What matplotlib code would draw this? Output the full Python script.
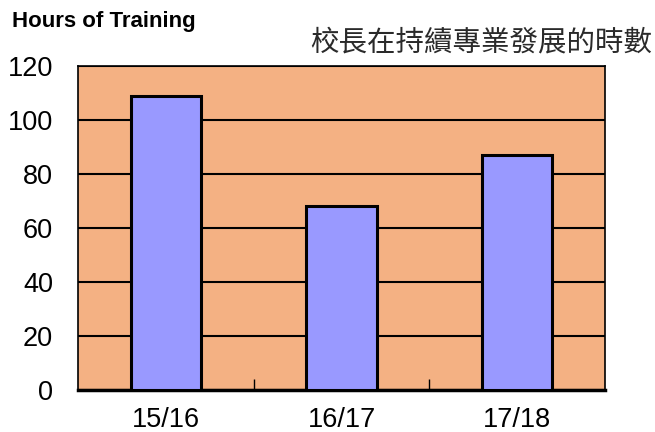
import numpy as np
import matplotlib.pyplot as plt

plt.rcParams['font.family'] = ['Liberation Sans', 'Noto Sans CJK TC', 'DejaVu Sans']

years = ['15/16', '16/17', '17/18']
hours = [109, 68, 87]
yticks = [0, 20, 40, 60, 80, 100, 120]

fig = plt.figure(figsize=(6.55, 4.32), dpi=100)
ax = fig.add_axes([78 / 655, 1 - 390 / 432, 527 / 655, 324 / 432])
ax.set_facecolor('#F4B183')

x = np.arange(len(years))
ax.bar(x, hours, width=0.4, color='#9999FF', edgecolor='black', linewidth=2.2, zorder=3)

ax.set_xlim(-0.5, 2.5)
ax.set_ylim(0, 120)
ax.set_yticks(yticks)
ax.set_yticklabels([str(v) for v in yticks], fontsize=19.5)
ax.yaxis.grid(True, color='black', linewidth=1.5, zorder=1)
ax.set_axisbelow(True)
ax.tick_params(axis='y', length=0, pad=18)

ax.set_xticks(x)
ax.set_xticklabels(years, fontsize=19.5)
ax.tick_params(axis='x', length=0, pad=12)
ax.set_xticks([0.5, 1.5], minor=True)
ax.tick_params(axis='x', which='minor', direction='in', length=8, width=1, color='black')

for side in ['left', 'top', 'right']:
    ax.spines[side].set_linewidth(1.2)
ax.spines['bottom'].set_linewidth(2.5)

fig.text(12 / 655, 1 - 21 / 432, 'Hours of Training', fontsize=16, fontweight='bold',
         va='center', ha='left')
fig.text(310 / 655, 1 - 42 / 432, '校長在持續專業發展的時數', fontsize=20.5, va='center', ha='left',
         color='#2a2a2a', family=['Noto Sans CJK TC', 'DejaVu Sans'])

plt.savefig('out.png', dpi=100)
plt.close()
